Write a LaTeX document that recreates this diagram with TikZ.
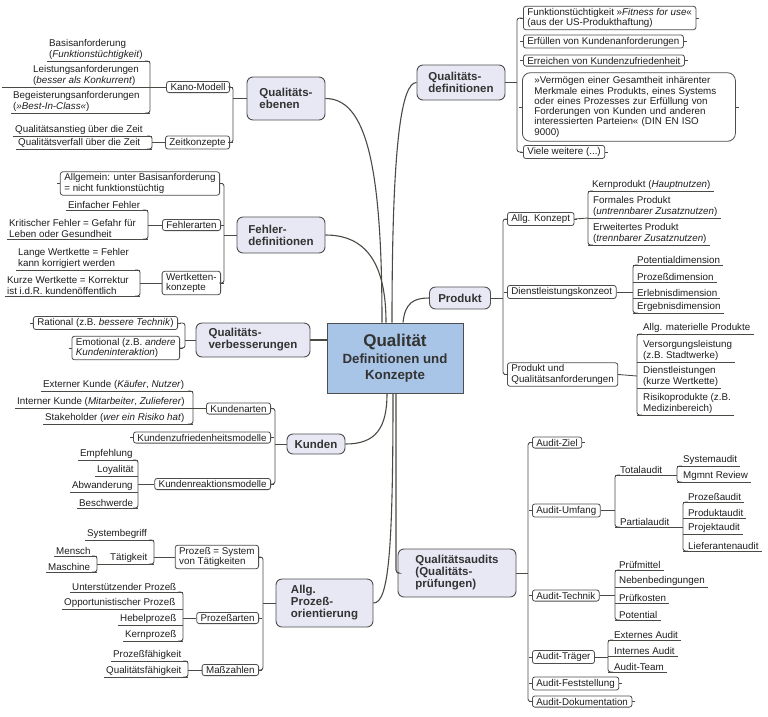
\documentclass[tikz,border=0pt]{standalone}
\usepackage{fontspec}
\setmainfont{Liberation Sans}
\definecolor{lc}{HTML}{4A4A44}
\definecolor{bc}{HTML}{4E4E4E}
\definecolor{mainfill}{HTML}{E7E8F4}
\definecolor{cfill}{HTML}{A8C4E6}
\definecolor{tc}{HTML}{1E1E1E}
\definecolor{mtc}{HTML}{333333}
\newcommand\sz{\fontsize{9.8}{10.3}\selectfont}
\newcommand\lbus[3]{\draw[ln,rounded corners=2.5pt] (#1-5,#2) -- (#1,#2) -- (#1,#3) -- (#1-5,#3);}
\newcommand\rbus[3]{\draw[ln,rounded corners=2.5pt] (#1+5,#2) -- (#1,#2) -- (#1,#3) -- (#1+5,#3);}
\newcommand\lleaf[5]{\node[leaf,anchor=south west] (#1) at (#2,#3-1.5) {#5};
  \draw[ln] ([xshift=-2pt,yshift=-1.5pt]#1.south west) -- (#4,#3);}
\newcommand\rleaf[5]{\node[leaf,anchor=south west] (#1) at (#2,#3-1.5) {#5};
  \draw[ln] (#4,#3) -- ([xshift=3pt,yshift=-1.5pt]#1.south east);}
\begin{document}
\begin{tikzpicture}[x=1pt,y=-1pt,
  ln/.style={draw=lc,line width=0.85pt},
  mainln/.style={draw=lc,line width=1.1pt},
  maint/.style={draw=bc,fill=mainfill,rounded corners=6pt,line width=0.9pt,
    font=\fontsize{11.5}{12}\selectfont\bfseries,text=mtc,align=left,inner sep=0pt},
  central/.style={draw=bc,fill=cfill,line width=1pt,align=center,text=mtc,
    font=\fontsize{13.3}{16}\selectfont\bfseries,minimum width=136,minimum height=70},
  sub/.style={draw=bc,fill=white,rounded corners=2.5pt,line width=0.8pt,font=\sz,
    text=tc,align=left,inner xsep=4pt,inner ysep=2pt,
    append after command={(\tikzlastnode.west) edge[ln] +(-3pt,0pt)
      (\tikzlastnode.east) edge[ln] +(3pt,0pt)}},
  leaf/.style={inner sep=0pt,font=\sz,text=tc,align=left}]
\fill[white] (0,0) rectangle (768,716);
\useasboundingbox (0,0) rectangle (768,716);

% central
\node[central] (c) at (395,358) {{\fontsize{17}{18}\selectfont Qualität}\\[1pt]Definitionen und\\Konzepte};

% main topics
\node[maint,minimum width=78,minimum height=43] (qe) at (286,98.5) {Qualitäts-\\ebenen};
\node[maint,minimum width=88,minimum height=35] (qd) at (461,82.5) {Qualitäts-\\definitionen};
\node[maint,minimum width=88,minimum height=36] (fd) at (281,235) {Fehler-\\definitionen};
\node[maint,minimum width=114,minimum height=34] (qv) at (253,340) {Qualitäts-\\verbesserungen};
\node[maint,minimum width=58,minimum height=20] (ku) at (316,444) {Kunden};
\node[maint,minimum width=97,minimum height=48] (ap) at (324.5,603) {Allg.\\Prozeß-\\orientierung};
\node[maint,minimum width=61,minimum height=22] (pr) at (460,298) {Produkt};
\node[maint,minimum width=118,minimum height=48] (qa) at (457,573) {Qualitätsaudits\\(Qualitäts-\\prüfungen)};

% main connectors
\draw[mainln] ([xshift=-13pt]c.north) .. controls +(0,-160) and +(40,0) .. (qe.east);
\draw[mainln] ([xshift=-9pt]c.north) .. controls +(0,-60) and +(40,0) .. (fd.east);
\draw[mainln] ([xshift=-3pt]c.north) .. controls +(0,-180) and +(-15,0) .. (qd.west);
\draw[mainln] ([xshift=8pt]c.north) .. controls +(2,-20) and +(-15,0) .. (pr.west);
\draw[mainln] (qv.east) -- (qv.east -| c.west);
\draw[mainln] ([xshift=-8pt]c.south) .. controls +(0,35) and +(30,0) .. (ku.east);
\draw[mainln] ([xshift=-2pt]c.south) .. controls +(0,160) and +(15,0) .. (ap.east);
\draw[mainln,rounded corners=3pt] ([xshift=1pt]c.south) |- (qa.west);

% ---------- Qualitaets-ebenen
\node[sub,anchor=east] (kano) at (230,87) {Kano-Modell};
\node[sub,anchor=east] (zeit) at (230,142.5) {Zeitkonzepte};
\lbus{233}{87}{142.5}
\draw[ln] (qe.west) -- (233,98.5);
\draw[ln] (kano.west) -- (150,87);
\lbus{150}{61}{113}
\lleaf{basis}{49}{61}{150}{Basisanforderung\\(\textit{Funktionstüchtigkeit})}
\lleaf{leist}{33}{87}{150}{Leistungsanforderungen\\(\textit{besser als Konkurrent})}
\draw[ln] (2,87) -- ([yshift=-1.5pt]leist.south west);
\lleaf{begeist}{13}{113}{150}{Begeisterungsanforderungen\\(\textit{»Best-In-Class«})}
\draw[ln] (zeit.west) -- (152,142.5);
\lbus{152}{136}{149}
\lleaf{anstieg}{15}{136}{152}{Qualitätsanstieg über die Zeit}
\lleaf{verfall}{18}{149}{152}{Qualitätsverfall über die Zeit}

% ---------- Fehler-definitionen
\node[sub,anchor=east] (allg) at (220,183.5) {Allgemein: unter Basisanforderung\\= nicht funktionstüchtig};
\node[sub,anchor=east] (fa) at (221,225) {Fehlerarten};
\node[sub,anchor=east] (wk) at (221,283) {Wertketten-\\konzepte};
\lbus{224}{183.5}{283}
\draw[ln] (fd.west) -- (224,235);
\draw[ln] (fa.west) -- (148,225);
\lbus{148}{210}{239}
\lleaf{einf}{68}{210}{148}{Einfacher Fehler}
\lleaf{krit}{9}{239}{148}{Kritischer Fehler = Gefahr für\\Leben oder Gesundheit}
\draw[ln] (wk.west) -- (140,283);
\lbus{140}{270}{296}
\lleaf{lang}{18}{270}{140}{Lange Wertkette = Fehler\\kann korrigiert werden}
\lleaf{kurz}{7}{296}{140}{Kurze Wertkette = Korrektur\\ist i.d.R. kundenöffentlich}

% ---------- Qualitaets-verbesserungen
\node[sub,anchor=east] (rat) at (178,323) {Rational (z.B. \textit{bessere Technik})};
\node[sub,anchor=east] (emo) at (180,348) {Emotional (z.B. \textit{andere}\\\textit{Kundeninteraktion})};
\lbus{185}{323}{348}
\draw[ln] (qv.west) -- (185,340);

% ---------- Kunden
\node[sub,anchor=east] (kart) at (271,408.5) {Kundenarten};
\node[sub,anchor=east] (kzm) at (271,437.5) {Kundenzufriedenheitsmodelle};
\node[sub,anchor=east] (krm) at (271,484) {Kundenreaktionsmodelle};
\lbus{275}{408.5}{484}
\draw[ln] (ku.west) -- (275,444);
\draw[ln] (kart.west) -- (193,408.5);
\lbus{193}{391}{424}
\lleaf{ext}{43}{391}{193}{Externer Kunde (\textit{Käufer}, \textit{Nutzer})}
\lleaf{int}{17}{408.5}{193}{Interner Kunde (\textit{Mitarbeiter}, \textit{Zulieferer})}
\lleaf{stake}{45}{424}{193}{Stakeholder (\textit{wer ein Risiko hat})}
\draw[ln] (krm.west) -- (138,484);
\lbus{138}{460}{508}
\lleaf{empf}{80}{460}{138}{Empfehlung}
\lleaf{loy}{97}{476}{138}{Loyalität}
\lleaf{abw}{72}{492}{138}{Abwanderung}
\lleaf{besch}{79}{508}{138}{Beschwerde}

% ---------- Allg. Prozessorientierung
\node[sub,anchor=east] (psys) at (259,557) {Prozeß = System\\von Tätigkeiten};
\node[sub,anchor=east] (part) at (259,618) {Prozeßarten};
\node[sub,anchor=east] (mass) at (259,670) {Maßzahlen};
\lbus{263}{557}{670}
\draw[ln] (ap.west) -- (263,603);
\draw[ln] (psys.west) -- (154,557);
\lbus{154}{540}{564}
\lleaf{sysb}{87}{540}{154}{Systembegriff}
\lleaf{taet}{110}{564}{154}{Tätigkeit}
\draw[ln] (97,564) -- ([yshift=-1.5pt]taet.south west);
\lbus{97}{556}{572}
\lleaf{mensch}{56}{556}{97}{Mensch}
\lleaf{masch}{48}{572}{97}{Maschine}
\draw[ln] (part.west) -- (183,618);
\lbus{183}{592}{641}
\lleaf{unt}{72}{592}{183}{Unterstützender Prozeß}
\lleaf{opp}{64}{609}{183}{Opportunistischer Prozeß}
\lleaf{heb}{120}{625}{183}{Hebelprozeß}
\lleaf{kern}{125}{641}{183}{Kernprozeß}
\draw[ln] (mass.west) -- (188,670);
\lbus{188}{661}{677}
\lleaf{pf}{113}{661}{188}{Prozeßfähigkeit}
\lleaf{qf}{106}{677}{188}{Qualitätsfähigkeit}

% ---------- Qualitaets-definitionen
\node[sub,anchor=west] (fit) at (523,18) {Funktionstüchtigkeit »\textit{Fitness for use}«\\(aus der US-Produkthaftung)};
\node[sub,anchor=west] (erf) at (523,41.5) {Erfüllen von Kundenanforderungen};
\node[sub,anchor=west] (err) at (523,60.5) {Erreichen von Kundenzufriedenheit};
\node[sub,anchor=west,rounded corners=8pt,inner xsep=12pt,inner ysep=4pt,text width=189] (verm) at (522,107) {»Vermögen einer Gesamtheit inhärenter\\Merkmale eines Produkts, eines Systems\\oder eines Prozesses zur Erfüllung von\\Forderungen von Kunden und anderen\\interessierten Parteien« (DIN EN ISO\\9000)};
\node[sub,anchor=west] (viele) at (523,152) {Viele weitere (...)};
\rbus{517}{18}{152}
\draw[ln] (qd.east) -- (517,82.5);

% ---------- Produkt
\node[sub,anchor=west] (ak) at (507,219) {Allg. Konzept};
\node[sub,anchor=west] (dk) at (507,292) {Dienstleistungskonzeot};
\node[sub,anchor=west] (pqa) at (507,374.5) {Produkt und\\Qualitätsanforderungen};
\rbus{503}{219}{374.5}
\draw[ln] (pr.east) -- (503,298);
\draw[ln] (ak.east) -- (588,218);
\rbus{588}{191}{245}
\rleaf{kp}{592}{191}{588}{Kernprodukt (\textit{Hauptnutzen})}
\rleaf{fp}{593}{218}{588}{Formales Produkt\\(\textit{untrennbarer Zusatznutzen})}
\rleaf{ep}{593}{245}{588}{Erweitertes Produkt\\(\textit{trennbarer Zusatznutzen})}
\draw[ln] (dk.east) -- (633,292);
\rbus{633}{265}{313}
\rleaf{pot}{637}{265}{633}{Potentialdimension}
\rleaf{pzd}{637}{282}{633}{Prozeßdimension}
\rleaf{erl}{637}{298}{633}{Erlebnisdimension}
\rleaf{erg}{637}{313}{633}{Ergebnisdimension}
\draw[ln] (pqa.east) -- (637,376);
\rbus{637}{334}{415}
\rleaf{amp}{643}{334}{637}{Allg. materielle Produkte}
\rleaf{vers}{643}{362}{637}{Versorgungsleistung\\(z.B. Stadtwerke)}
\rleaf{dl}{643}{388}{637}{Dienstleistungen\\(kurze Wertkette)}
\rleaf{risk}{643}{415}{637}{Risikoprodukte (z.B.\\Medizinbereich)}

% ---------- Qualitaetsaudits
\node[sub,anchor=west] (az) at (532,442.5) {Audit-Ziel};
\node[sub,anchor=west] (au) at (532,510.5) {Audit-Umfang};
\node[sub,anchor=west] (atech) at (532,595.5) {Audit-Technik};
\node[sub,anchor=west] (atr) at (532,657) {Audit-Träger};
\node[sub,anchor=west] (afs) at (532,683.5) {Audit-Feststellung};
\node[sub,anchor=west] (adok) at (532,701.5) {Audit-Dokumentation};
\rbus{528}{442.5}{701.5}
\draw[ln] (qa.east) -- (528,573);
\draw[ln] (au.east) -- (615,510.5);
\rbus{615}{475}{527}
\rleaf{total}{620}{475}{615}{Totalaudit}
\draw[ln] ([yshift=-1.5pt]total.south east) -- (677,475);
\rbus{677}{466}{482}
\rleaf{sysa}{683}{466}{677}{Systemaudit}
\rleaf{mgmt}{683}{482}{677}{Mgmnt Review}
\rleaf{pau}{620}{527}{615}{Partialaudit}
\draw[ln] ([yshift=-1.5pt]pau.south east) -- (683,527);
\rbus{683}{502}{551}
\rleaf{pza}{688}{502}{683}{Prozeßaudit}
\rleaf{pda}{688}{518}{683}{Produktaudit}
\rleaf{pja}{688}{534}{683}{Projektaudit}
\rleaf{lfa}{688}{551}{683}{Lieferantenaudit}
\draw[ln] (atech.east) -- (615,595.5);
\rbus{615}{570}{620}
\rleaf{pm}{619}{570}{615}{Prüfmittel}
\rleaf{nb}{619}{587}{615}{Nebenbedingungen}
\rleaf{pk}{619}{603}{615}{Prüfkosten}
\rleaf{potl}{619}{620}{615}{Potential}
\draw[ln] (atr.east) -- (608,657);
\rbus{608}{640}{672}
\rleaf{exa}{614}{640}{608}{Externes Audit}
\rleaf{ina}{614}{656}{608}{Internes Audit}
\rleaf{team}{614}{672}{608}{Audit-Team}
\end{tikzpicture}
\end{document}
